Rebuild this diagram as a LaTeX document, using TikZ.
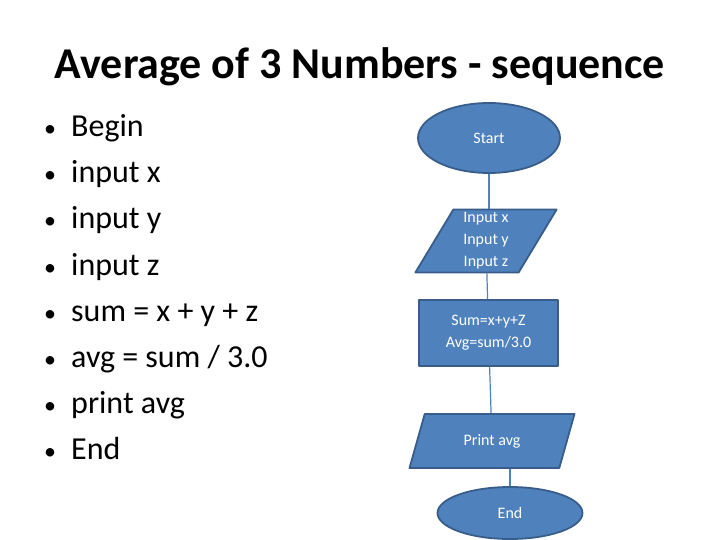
\documentclass[tikz,border=0pt]{standalone}
\usepackage{fontspec}
\setmainfont{Carlito}
\usetikzlibrary{shapes.geometric}
\definecolor{boxblue}{HTML}{4F81BD}
\definecolor{edgeblue}{HTML}{385D8A}
\tikzset{
  flow/.style={draw=edgeblue, line width=1.8pt, fill=boxblue, text=white,
    font=\fontsize{16}{22}\selectfont, align=center, inner sep=0pt},
  terminal/.style={flow, ellipse},
  io/.style={flow, trapezium, trapezium left angle=65, trapezium right angle=115,
    trapezium stretches=true},
  process/.style={flow, rectangle},
  link/.style={draw=boxblue, line width=1.2pt}
}
\begin{document}
\begin{tikzpicture}[x=1pt, y=-1pt, line join=round]
  \useasboundingbox (0,0) rectangle (720,540);
  \node[font=\bfseries\fontsize{44}{48}\selectfont] (title) at (360,67) {Average of 3 Numbers - sequence};
  % list of steps
  \foreach \t [count=\i] in {Begin, input x, input y, input z, sum = x + y + z, avg = sum / 3.0, print avg, End} {
    \node[anchor=base, font=\fontsize{24}{30}\selectfont] (dot\i) at (50,{126+46*(\i-1)+11}) {•};
    \node[anchor=base west, inner sep=0pt, font=\fontsize{32}{34}\selectfont] (step\i) at (71,{126+46*(\i-1)+11}) {\t};
  }
  % flowchart
  \node[terminal, minimum width=142pt, minimum height=70pt] (start) at (489,138) {Start};
  \node[io, minimum width=142pt, minimum height=63pt] (inp) at (486,241) {Input x\\Input y\\Input z};
  \node[process, minimum width=139pt, minimum height=66pt] (calc) at (488.5,333) {Sum=x+y+Z\\Avg=sum/3.0};
  \node[io, minimum width=166pt, minimum height=54pt] (out) at (492,441) {Print avg};
  \node[terminal, minimum width=145pt, minimum height=52pt] (stop) at (510,513) {End};
  \draw[link] (start) -- (start |- inp.north);
  \draw[link] (inp) -- (calc);
  \draw[link] (calc) -- (out);
  \draw[link] (out.south -| stop) -- (stop);
\end{tikzpicture}
\end{document}
